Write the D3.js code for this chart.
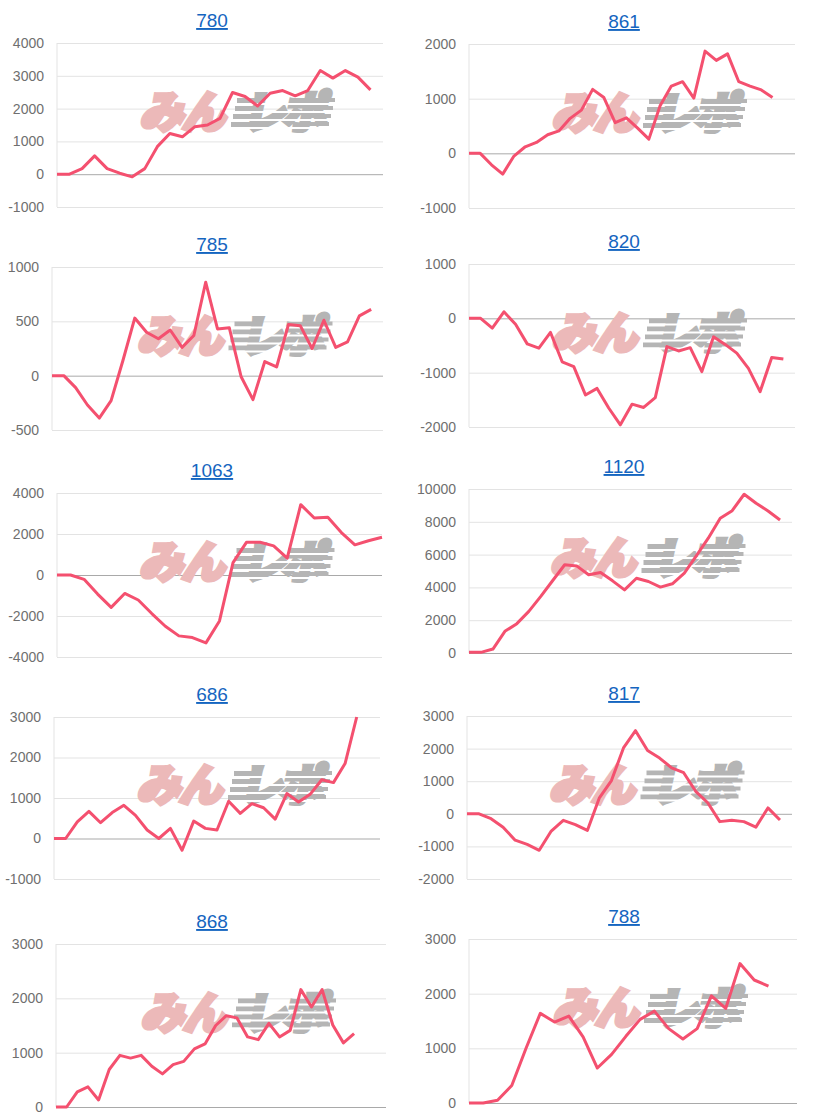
<!DOCTYPE html>
<html>
<head>
<meta charset="utf-8">
<script src="https://cdn.jsdelivr.net/npm/d3@7"></script>
<style>
  body { margin: 0; background: #fff; }
  svg { display: block; }
</style>
</head>
<body>
<svg id="canvas" width="824" height="1120"></svg>
<script>
// chart titles (machine numbers)
const titles = ['780', '861', '785', '820', '1063', '1120', '686', '817', '868', '788'];

// cumulative values per chart
const s780 = [0, 0, 170, 560, 170, 30, -80, 170, 840, 1240, 1140, 1450, 1500, 1700, 2490, 2370, 2080, 2470, 2550, 2390, 2550, 3160, 2930, 3160, 2960, 2570];
const s861 = [0, 0, -210, -380, -50, 120, 200, 340, 410, 640, 790, 1170, 1020, 560, 650, 460, 260, 870, 1230, 1310, 1010, 1870, 1700, 1820, 1310, 1230, 1160, 1020];
const s785 = [0, 0, -110, -270, -390, -230, 140, 530, 400, 340, 420, 260, 370, 860, 430, 440, -10, -220, 130, 80, 470, 460, 250, 510, 260, 310, 550, 610];
const s820 = [0, 0, -180, 120, -110, -470, -550, -260, -800, -890, -1410, -1290, -1650, -1960, -1580, -1640, -1460, -520, -600, -540, -980, -340, -480, -640, -920, -1350, -720, -750];
const s1063 = [0, 0, -210, -930, -1580, -900, -1220, -1880, -2500, -2970, -3050, -3310, -2240, 600, 1600, 1600, 1420, 820, 3430, 2780, 2820, 2070, 1470, 1670, 1840];
const s1120 = [40, 40, 240, 1320, 1790, 2540, 3450, 4420, 5380, 5310, 4770, 4910, 4400, 3850, 4560, 4360, 4020, 4220, 4870, 5920, 7000, 8220, 8680, 9680, 9130, 8660, 8110];
const s686 = [0, 0, 410, 670, 390, 640, 820, 570, 210, 0, 250, -290, 430, 250, 210, 920, 620, 860, 760, 480, 1110, 900, 1090, 1450, 1380, 1850, 3000];
const s817 = [0, 0, -150, -410, -810, -940, -1120, -530, -200, -330, -510, 490, 1020, 2020, 2550, 1940, 1710, 1410, 1260, 690, 340, -240, -200, -240, -410, 180, -190];
const s868 = [0, 0, 280, 370, 130, 690, 950, 900, 950, 750, 610, 780, 840, 1070, 1160, 1500, 1680, 1640, 1290, 1240, 1540, 1290, 1410, 2160, 1840, 2160, 1510, 1180, 1350];
const s788 = [0, 0, 50, 320, 1000, 1640, 1480, 1590, 1210, 640, 890, 1220, 1530, 1680, 1360, 1170, 1360, 1960, 1730, 2550, 2250, 2140];
const series = [s780, s861, s785, s820, s1063, s1120, s686, s817, s868, s788];

// y axis tick values per chart
const yTicks = [
  [-1000, 0, 1000, 2000, 3000, 4000],
  [-1000, 0, 1000, 2000],
  [-500, 0, 500, 1000],
  [-2000, -1000, 0, 1000],
  [-4000, -2000, 0, 2000, 4000],
  [0, 2000, 4000, 6000, 8000, 10000],
  [-1000, 0, 1000, 2000, 3000],
  [-2000, -1000, 0, 1000, 2000, 3000],
  [0, 1000, 2000, 3000],
  [0, 1000, 2000, 3000]
];

// number of x slots on each chart's horizontal axis
const xSlots = [26, 29, 28, 28, 24, 27, 28, 27, 31, 23];

// plot boxes (layout only)
const boxes = [
  { l: 57, t: 43, r: 383, b: 207 },
  { l: 469, t: 44, r: 795, b: 208 },
  { l: 52, t: 267, r: 383, b: 430 },
  { l: 469, t: 264, r: 795, b: 427 },
  { l: 57, t: 493, r: 382, b: 657 },
  { l: 469, t: 489, r: 792, b: 653 },
  { l: 54, t: 717, r: 380, b: 879 },
  { l: 467, t: 716, r: 792, b: 879 },
  { l: 56, t: 944, r: 386, b: 1107 },
  { l: 469, t: 939, r: 797, b: 1103 }
];

const font = 'Arial, "Liberation Sans", sans-serif';
let canvas = d3.select('#canvas');

// watermark logo drawn behind each line
const drawMark = (g, cx, cy) => {
  let m = g.append('g').attr('transform', 'translate(' + (cx - 100) + ',' + (cy + 17) + ')');
  let skew = m.append('g').attr('transform', 'skewX(-12)');
  skew.append('text')
    .attr('x', 6).attr('y', -2)
    .attr('font-family', '"Noto Sans CJK JP", sans-serif')
    .attr('font-weight', 900)
    .attr('font-size', 44)
    .attr('fill', '#ecb9b9')
    .attr('stroke', '#ecb9b9')
    .attr('stroke-width', 4)
    .attr('stroke-linejoin', 'miter')
    .attr('textLength', 86)
    .text('みん');
  skew.append('text')
    .attr('x', 108).attr('y', -2)
    .attr('font-family', '"Noto Sans CJK JP", sans-serif')
    .attr('font-weight', 900)
    .attr('font-size', 44)
    .attr('fill', '#b5b5b5')
    .attr('stroke', '#b5b5b5')
    .attr('stroke-width', 4)
    .attr('stroke-linejoin', 'miter')
    .attr('textLength', 84)
    .text('レポ');
  // speed streaks: grey bars on the left of the grey part, cut by white gaps
  [-32, -24, -16, -8].forEach((dy, k) => {
    m.append('rect')
      .attr('x', 104 - k * 2).attr('y', dy)
      .attr('width', 22).attr('height', 5)
      .attr('fill', '#b5b5b5');
    m.append('rect')
      .attr('x', 176 - k * 2).attr('y', dy)
      .attr('width', 26).attr('height', 4)
      .attr('fill', '#b5b5b5');
  });
  [-27, -19, -11, -3].forEach((dy) => {
    m.append('rect')
      .attr('x', 98).attr('y', dy)
      .attr('width', 108).attr('height', 2)
      .attr('fill', '#fff');
  });
};

series.forEach((values, i) => {
  let box = boxes[i];
  let ticks = yTicks[i];
  let g = canvas.append('g');

  let x = d3.scaleLinear().domain([0, xSlots[i]]).range([box.l, box.r]);
  let y = d3.scaleLinear().domain(d3.extent(ticks)).range([box.b, box.t]);

  // title
  let colCenter = i % 2 === 0 ? 212 : 624;
  g.append('text')
    .attr('x', colCenter)
    .attr('y', box.t - 16)
    .attr('text-anchor', 'middle')
    .attr('font-family', font)
    .attr('font-size', 19)
    .attr('fill', '#1565c0')
    .attr('text-decoration', 'underline')
    .text(titles[i]);

  // grid
  let yAxis = d3.axisLeft(y).tickValues(ticks).tickSize(-(box.r - box.l)).tickPadding(13).tickFormat((d) => String(d));
  let ax = g.append('g').attr('transform', 'translate(' + box.l + ',0)').call(yAxis);
  ax.select('.domain').remove();
  ax.selectAll('.tick line')
    .attr('stroke', (d) => (d === 0 ? '#a9a9a9' : '#e3e3e3'))
    .attr('stroke-width', 1);
  ax.selectAll('.tick text')
    .attr('font-family', font)
    .attr('font-size', 14)
    .attr('fill', '#6f6f6f');

  g.append('line')
    .attr('x1', box.l).attr('x2', box.l)
    .attr('y1', box.t).attr('y2', box.b)
    .attr('stroke', '#e3e3e3');

  drawMark(g, (box.l + box.r) / 2 + 13, (box.t + box.b) / 2 - 12);

  let line = d3.line()
    .x((d, k) => x(k))
    .y((d) => y(d));

  g.append('path')
    .datum(values)
    .attr('d', line)
    .attr('fill', 'none')
    .attr('stroke', '#f4506f')
    .attr('stroke-width', 3)
    .attr('stroke-linejoin', 'round');
});
</script>
</body>
</html>
